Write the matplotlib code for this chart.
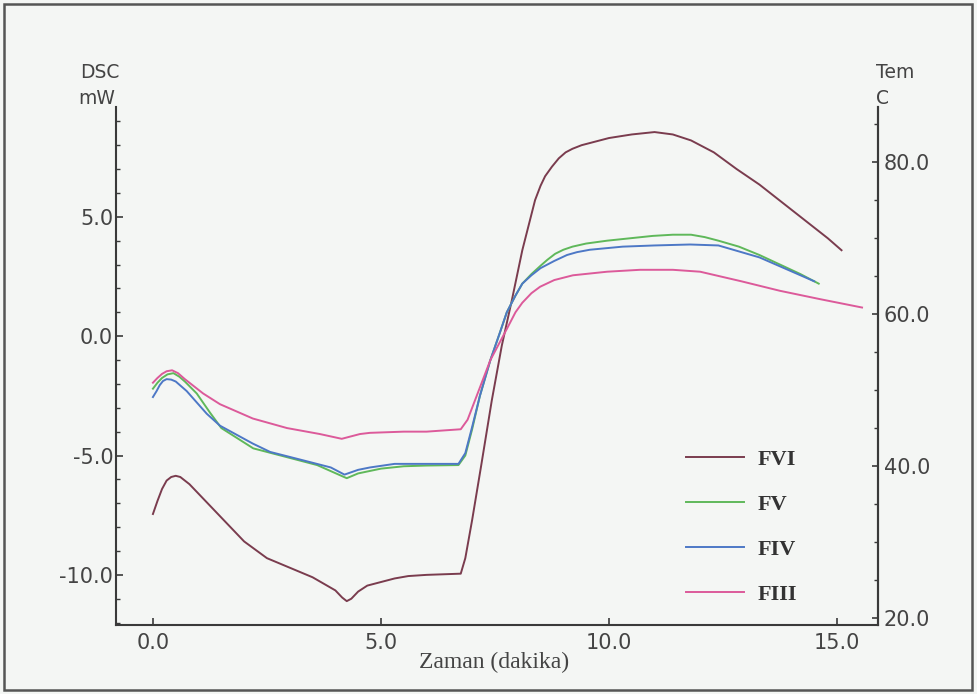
import matplotlib
matplotlib.use("Agg")
import matplotlib.pyplot as plt
from matplotlib.patches import Rectangle
from matplotlib.ticker import MultipleLocator, FixedLocator, FormatStrFormatter

# ---- data (time in minutes, DSC in mW) ----
fvi_t = [0.0, 0.1, 0.2, 0.3, 0.4, 0.5, 0.6, 0.8, 1.0, 1.2, 1.6, 2.0, 2.5, 3.0, 3.5, 4.0,
         4.15, 4.25, 4.35, 4.5, 4.7, 5.0, 5.3, 5.6, 6.0, 6.75, 6.85, 7.0, 7.2, 7.43, 7.65,
         7.87, 8.1, 8.38, 8.5, 8.6, 8.75, 8.9, 9.05, 9.2, 9.4, 9.6, 10.0, 10.5, 11.0, 11.4,
         11.8, 12.3, 12.8, 13.3, 13.8, 14.3, 14.8, 15.1]
fvi_v = [-7.45, -6.9, -6.4, -6.05, -5.9, -5.85, -5.9, -6.2, -6.6, -7.0, -7.8, -8.6, -9.3,
         -9.7, -10.1, -10.65, -10.95, -11.1, -11.0, -10.7, -10.45, -10.3, -10.15, -10.05,
         -10.0, -9.95, -9.3, -7.7, -5.4, -2.7, -0.4, 1.5, 3.6, 5.7, 6.3, 6.7, 7.1, 7.45, 7.7,
         7.85, 8.0, 8.1, 8.3, 8.45, 8.55, 8.45, 8.2, 7.7, 7.0, 6.35, 5.6, 4.85, 4.1, 3.6]

fv_t = [0.0, 0.1, 0.2, 0.32, 0.45, 0.58, 0.7, 0.96, 1.25, 1.5, 2.2, 2.9, 3.6, 4.25, 4.5,
        5.0, 5.5, 6.0, 6.7, 6.85, 7.0, 7.17, 7.4, 7.6, 7.76, 7.95, 8.1, 8.3, 8.5, 8.65, 8.82,
        9.0, 9.2, 9.5, 9.96, 10.96, 11.4, 11.8, 12.1, 12.4, 12.85, 13.3, 14.2, 14.6]
fv_v = [-2.2, -1.95, -1.75, -1.6, -1.55, -1.7, -1.9, -2.4, -3.2, -3.85, -4.7, -5.05, -5.4,
        -5.95, -5.75, -5.55, -5.45, -5.42, -5.4, -5.0, -3.9, -2.5, -1.0, 0.1, 1.0, 1.7, 2.2,
        2.6, 2.95, 3.2, 3.45, 3.62, 3.75, 3.88, 4.0, 4.2, 4.25, 4.25, 4.15, 4.0, 3.75, 3.4,
        2.6, 2.2]

fiv_t = [0.0, 0.08, 0.15, 0.22, 0.3, 0.4, 0.5, 0.74, 1.18, 1.47, 2.19, 2.57, 3.29, 3.9,
         4.2, 4.5, 4.76, 5.3, 6.0, 6.7, 6.85, 7.0, 7.17, 7.4, 7.6, 7.76, 7.95, 8.1, 8.3, 8.5,
         8.8, 9.08, 9.3, 9.58, 10.3, 11.0, 11.78, 12.4, 13.3, 14.2, 14.5]
fiv_v = [-2.55, -2.3, -2.05, -1.88, -1.8, -1.82, -1.9, -2.3, -3.25, -3.75, -4.5, -4.85,
         -5.2, -5.5, -5.8, -5.6, -5.5, -5.35, -5.35, -5.35, -4.9, -3.8, -2.5, -1.0, 0.1, 1.0,
         1.7, 2.2, 2.55, 2.85, 3.15, 3.4, 3.52, 3.62, 3.75, 3.8, 3.84, 3.8, 3.3, 2.55, 2.3]

fiii_t = [0.0, 0.1, 0.2, 0.3, 0.42, 0.55, 0.7, 0.9, 1.1, 1.47, 2.19, 2.94, 3.66, 4.14, 4.54,
          4.76, 5.5, 6.0, 6.75, 6.9, 7.1, 7.4, 7.76, 7.95, 8.1, 8.3, 8.49, 8.8, 9.21, 9.96,
          10.68, 11.4, 12.0, 12.9, 13.75, 14.63, 15.55]
fiii_v = [-1.95, -1.75, -1.58, -1.47, -1.43, -1.55, -1.8, -2.1, -2.4, -2.85, -3.45, -3.85,
          -4.1, -4.3, -4.1, -4.05, -4.0, -4.0, -3.9, -3.5, -2.5, -1.0, 0.3, 1.0, 1.4, 1.8,
          2.07, 2.35, 2.55, 2.7, 2.78, 2.78, 2.7, 2.3, 1.9, 1.55, 1.2]

series_names = ["FVI", "FV", "FIV", "FIII"]
series_colors = ["#7a3c4e", "#5fb85a", "#4d78c6", "#dc5a9a"]

x_ticks = [0, 5, 10, 15]
left_ticks = [-10, -5, 0, 5]
right_ticks = [20, 40, 60, 80]

bg = "#f4f6f4"
ink = "#3a3a3a"
txtc = "#444444"

fig = plt.figure(figsize=(9.77, 6.94), dpi=100, facecolor=bg)
ax = fig.add_axes([116/977, 1-625/694, (878-116)/977, (625-107)/694])
ax.set_facecolor(bg)

for t, v, name, col in zip([fvi_t, fv_t, fiv_t, fiii_t], [fvi_v, fv_v, fiv_v, fiii_v],
                           series_names, series_colors):
    ax.plot(t, v, color=col, lw=1.4, label=name, solid_joinstyle="round")

ax.set_xlim(-0.81, 15.9)
ax.set_ylim(-12.1, 9.6)
ax.xaxis.set_major_locator(FixedLocator(x_ticks))
ax.xaxis.set_major_formatter(FormatStrFormatter("%.1f"))
ax.yaxis.set_major_locator(FixedLocator(left_ticks))
ax.yaxis.set_minor_locator(MultipleLocator(1))
ax.yaxis.set_major_formatter(FormatStrFormatter("%.1f"))

ax.spines["top"].set_visible(False)
for s in ["left", "bottom", "right"]:
    ax.spines[s].set_color(ink)
    ax.spines[s].set_linewidth(1.5)

ax.tick_params(axis="x", direction="in", length=5, width=1.2, color=ink, pad=6,
               labelsize=15, labelcolor=txtc)
ax.tick_params(axis="y", which="major", direction="in", length=5, width=1.2, color=ink,
               pad=2, labelsize=15, labelcolor=txtc)
ax.tick_params(axis="y", which="minor", direction="in", length=3, width=1.0, color=ink)

ax2 = ax.twinx()
ax2.set_ylim(19.1, 87.2)
ax2.yaxis.set_major_locator(FixedLocator(right_ticks))
ax2.yaxis.set_minor_locator(MultipleLocator(5))
ax2.yaxis.set_major_formatter(FormatStrFormatter("%.1f"))
for s in ["top", "left", "bottom"]:
    ax2.spines[s].set_visible(False)
ax2.spines["right"].set_color(ink)
ax2.spines["right"].set_linewidth(1.5)
ax2.tick_params(axis="y", which="major", direction="in", length=4, width=1.2, color=ink,
                pad=4, labelsize=15, labelcolor=txtc)
ax2.tick_params(axis="y", which="minor", direction="in", length=3, width=1.0, color=ink)

# axis titles
fig.text(80/977, 1-73/694, "DSC", fontsize=13.5, color=txtc, ha="left", va="center")
fig.text(78/977, 1-99/694, "mW", fontsize=13.5, color=txtc, ha="left", va="center")
fig.text(876/977, 1-73/694, "Tem", fontsize=13.5, color=txtc, ha="left", va="center")
fig.text(876/977, 1-98/694, "C", fontsize=13.5, color=txtc, ha="left", va="center")
fig.text(494/977, 1-662/694, "Zaman (dakika)", fontsize=17, color=txtc,
         family="Liberation Serif", ha="center", va="center")

leg = ax.legend(loc="upper left", bbox_to_anchor=(686/977, 1-449/694),
                bbox_transform=fig.transFigure, frameon=False, borderpad=0,
                borderaxespad=0, handlelength=2.6, handletextpad=0.6, labelspacing=1.1,
                prop={"family": "Liberation Serif", "weight": "bold", "size": 16})
for txt in leg.get_texts():
    txt.set_color("#333333")

# outer frame
fig.patches.append(Rectangle((4/977, 4/694), 968/977, 686/694, transform=fig.transFigure,
                             fill=False, edgecolor="#555555", lw=1.8))

fig.savefig("out.png", dpi=100, facecolor=bg)
